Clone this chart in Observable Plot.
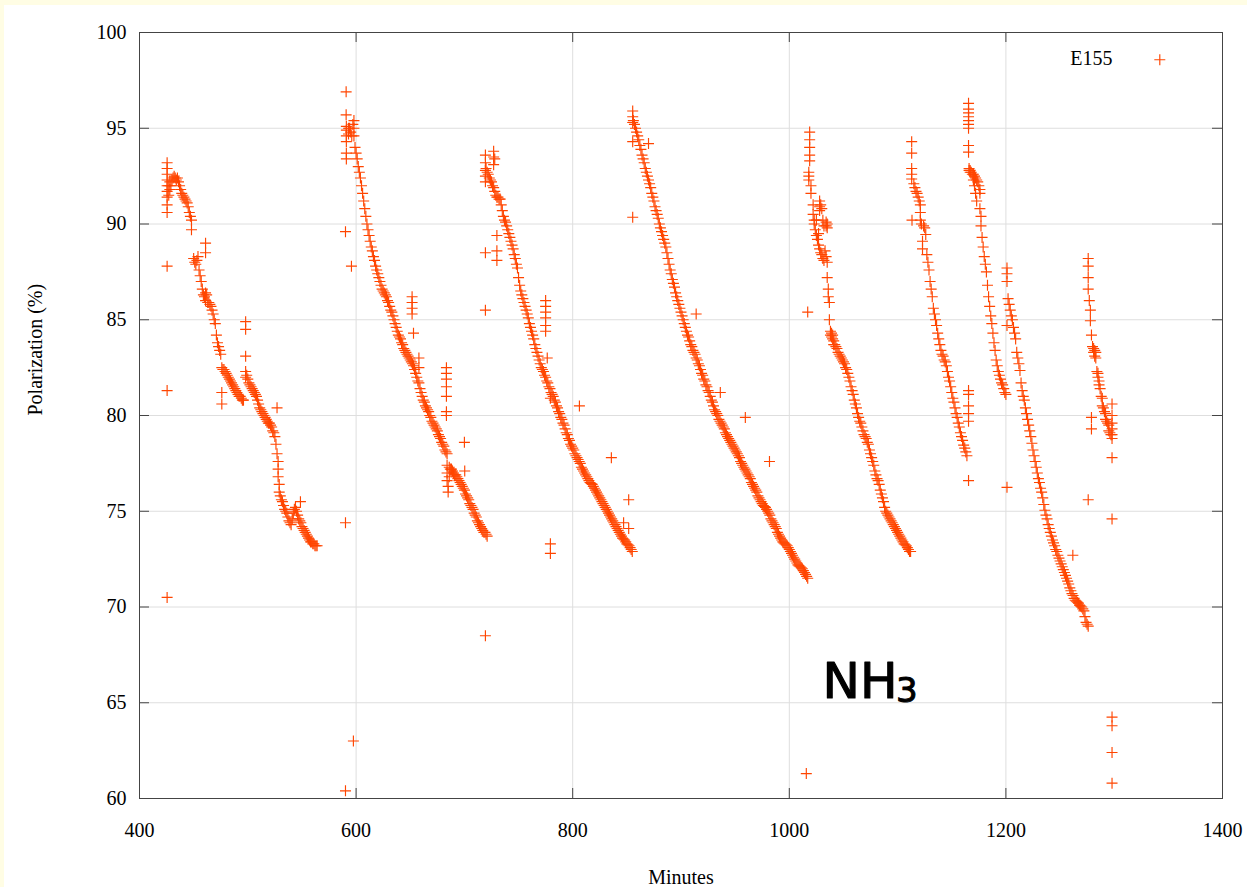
<!DOCTYPE html>
<html><head><meta charset="utf-8">
<script src="https://cdn.jsdelivr.net/npm/d3@7"></script>
<script src="https://cdn.jsdelivr.net/npm/@observablehq/plot@0.6"></script>
<style>
html,body{margin:0;padding:0;background:#fff;overflow:hidden;}
#chart svg{display:block;}
</style></head><body><div id="chart"></div><script>
// Tick values
const xTicks = [400, 600, 800, 1000, 1200, 1400];
const yTicks = [60, 65, 70, 75, 80, 85, 90, 95, 100];

// Series E155: [minutes, polarization %]
const seg1 = [[425.5,93.2],[425.5,92.9],[425.5,92.6],[425.5,92.3],[425.5,92.0],[425.5,91.7],[425.5,91.4],[425.5,91.0],[425.5,90.6],
[427,91.5],[427,92.0],[428,91.8],[428,92.2],[429,92.0],[430,92.3],[431,92.4],[432,92.5],[433,92.4],[434,92.3],[435,92.4],[436,92.2],[437,92.0],[438,91.8],[439,91.6],[440,91.5],[441,91.4],[442,91.3],[443,91.2],[444,91.1],[445,90.9],[446,90.6],[447,90.4],[448,90.2],
[450,88.2],[451,88.0],[452,87.9],[453,88.1],[454,88.3],[455,87.6],[456,87.3],[457,87.0],[458,86.6],[459,86.3],[460,86.2],[461,86.0],[461,86.4],[462,86.3],[463,85.9],[464,85.9],[465,85.8],[466,85.7],[467,85.5],[468,85.3],[469,85.0],[470,84.8],[471,84.2],[472,83.8],[473,83.6],[474,83.4],[475,83.2],
[476,82.5],[477,82.4],[478,82.4],[479,82.3],[480,82.2],[481,82.1],[482,82.0],[483,81.9],[484,81.8],[485,81.7],[486,81.6],[487,81.5],[488,81.4],[489,81.3],[490,81.2],[491,81.1],[492,81.0],[493,81.0],[494,80.9],[495,80.8],[496,80.8],
[498,82.3],[498,82.0],[499,82.1],[500,81.9],[501,81.7],[502,81.6],[503,81.5],[504,81.4],[505,81.3],[506,81.2],[507,81.1],[508,81.0],[509,80.8],[510,80.6],[511,80.4],[512,80.3],[513,80.2],[514,80.1],[515,80.0],[516,79.9],[517,79.8],[518,79.7],[519,79.6],[520,79.6],[521,79.5],[522,79.4],[523,79.2],[524,79.1],[525,78.9],[526,78.5],[527,78.0],[528,77.6],[528,77.2],[528,76.8],[529,76.4],[529,76.0],[530,75.8],[531,75.6],[532,75.5],[533,75.3],[534,75.1],[535,75.0],[536,74.9],[537,74.7],[538,74.5],[539,74.4],[540,74.3],[541,74.6],[542,74.9],[543,75.1],[544,75.2],[545,75.0],[546,74.8],[547,74.6],[548,74.5],[549,74.4],[550,74.2],[551,74.1],[552,74.0],[553,73.9],[554,73.8],[555,73.7],[556,73.6],[557,73.5],[558,73.4],[559,73.4],[560,73.3],[561,73.3],[562,73.2],[563,73.2],[564,73.2]];

const seg2 = [[591,95.1],[591,94.9],[591,94.6],[591,94.3],[591,93.7],[591,93.4],[593,95.0],[593,94.7],
[594,95.0],[595,94.8],[596,94.6],[597,95.2],[598,95.4],[598,95.0],[598,94.6],[599,94.0],[600,93.7],[601,93.4],[602,93.0],[603,92.7],[604,92.4],[605,92.0],[606,91.6],[607,91.2],[608,90.8],[609,90.4],[610,90.0],[611,89.7],[612,89.4],[613,89.1],[614,88.8],[615,88.6],[616,88.3],[617,88.1],[618,87.8],[619,87.6],[620,87.4],[621,87.2],[622,87.0],[623,86.8],[624,86.6],[625,86.5],[626,86.4],[627,86.3],[628,86.2],[629,86.0],[630,85.9],[631,85.7],[632,85.5],[633,85.4],[634,85.2],[635,85.0],[636,84.8],[637,84.6],[638,84.4],[639,84.2],[640,84.1],[641,84.0],[642,83.8],[643,83.7],[644,83.5],[645,83.4],[646,83.3],[647,83.2],[648,83.1],[649,83.0],[650,82.9],[651,82.8],[652,82.7],[653,82.6],[654,82.4],[655,82.2],[656,82.0],[657,81.8],[658,81.7],[659,81.4],[660,81.2],[661,81.0],[662,80.8],[663,80.7],[664,80.5],[665,80.4],[666,80.3],[667,80.2],[668,80.0],[669,79.9],[670,79.7],[671,79.6],[672,79.5],[673,79.4],[674,79.3],[675,79.2],[676,79.0],[677,78.9],[678,78.8],[679,78.6],[680,78.5],[681,78.4],[682,78.2],[683,78.1],[684,78.0],
[684,77.4],[684,77.0],[684,76.6],[685,76.3],[685,76.0],[686,77.3],[686,76.8],[687,77.2],[688,77.2],[689,77.1],[690,77.0],[691,76.9],[692,76.9],[693,76.8],[694,76.7],[695,76.6],[696,76.5],[697,76.4],[698,76.3],[699,76.2],[700,76.1],[701,75.9],[702,75.8],[703,75.7],[704,75.6],[705,75.4],[706,75.3],[707,75.2],[708,75.1],[709,74.9],[710,74.8],[711,74.7],[712,74.5],[713,74.4],[714,74.3],[715,74.2],[716,74.1],[717,74.0],[718,73.9],[719,73.9],[720,73.8],[721,73.7]];

const seg3 = [[719.4,93.6],[719.4,93.2],[719.4,92.8],[719.4,92.5],[719.4,92.2],[727,93.8],[727,93.5],[727,93.1],[728,93.4],
[720,92.9],[721,92.7],[722,92.6],[723,92.4],[724,92.3],[725,92.2],[726,92.0],[727,91.9],[728,91.7],[729,91.5],[730,91.4],[731,91.4],[732,91.3],[733,91.3],[734,91.0],[735,90.7],[736,90.4],[737,90.2],[738,90.1],[739,89.9],[740,89.7],[741,89.5],[742,89.3],[743,89.1],[744,88.9],[745,88.7],[746,88.4],[747,88.2],[748,87.9],[749,87.7],[750,87.2],[751,86.8],[752,86.5],[753,86.3],[754,86.1],[755,85.9],[756,85.7],[757,85.5],[758,85.3],[759,85.1],[760,84.8],[761,84.6],[762,84.4],[763,84.2],[764,84.0],[765,83.7],[766,83.5],[767,83.3],[768,83.1],[769,82.9],[770,82.7],[771,82.5],[772,82.4],[773,82.3],[774,82.1],[775,82.0],[776,81.8],[777,81.7],[778,81.5],[779,81.4],[780,81.2],[781,81.1],[782,81.0],[783,80.8],[784,80.7],[785,80.5],[786,80.4],[787,80.2],[788,80.1],[789,79.9],[790,79.8],[791,79.6],[792,79.5],[793,79.3],[794,79.1],[795,79.0],[796,78.8],[797,78.7],[798,78.5],[799,78.4],[800,78.3],[801,78.2],[802,78.0],[803,77.9],[804,77.8],[805,77.7],[806,77.6],[807,77.5],[808,77.3],[809,77.2],[810,77.1],[811,77.0],[812,76.9],[813,76.8],[814,76.7],[815,76.6],[816,76.5],[817,76.45],[818,76.4],[819,76.3],[820,76.2],[821,76.1],[822,76.0],[823,75.9],[824,75.8],[825,75.7],[826,75.6],[827,75.5],[828,75.4],[829,75.3],[830,75.2],[831,75.1],[832,75.0],[833,74.9],[834,74.8],[835,74.7],[836,74.6],[837,74.5],[838,74.4],[839,74.3],[840,74.2],[841,74.1],[842,74.0],[843,73.9],[844,73.8],[845,73.7],[846,73.6],[847,73.55],[848,73.5],[849,73.4],[850,73.3],[851,73.25],[852,73.2],[853,73.1],[854,73.0],[855,72.9]];

const seg4 = [[855.4,95.9],[855.4,95.6],[855.4,95.3],[855.4,94.3],
[856,95.4],[857,95.2],[858,95.0],[859,94.8],[860,94.6],[861,94.4],[862,94.1],[863,93.9],[864,93.6],[865,93.4],[866,93.2],[867,92.9],[868,92.7],[869,92.5],[870,92.3],[871,92.1],[872,91.9],[873,91.6],[874,91.4],[875,91.2],[876,90.9],[877,90.7],[878,90.5],[879,90.3],[880,90.0],[881,89.8],[882,89.6],[883,89.4],[884,89.2],[885,89.0],[886,88.8],[887,88.5],[888,88.2],[889,87.9],[890,87.6],[891,87.4],[892,87.1],[893,86.9],[894,86.7],[895,86.4],[896,86.2],[897,86.0],[898,85.8],[899,85.6],[900,85.4],[901,85.2],[902,85.0],[903,84.8],[904,84.6],[905,84.4],[906,84.2],[907,84.1],[908,83.9],[909,83.7],[910,83.6],[911,83.4],[912,83.3],[913,83.2],[914,83.0],[915,82.9],[916,82.7],[917,82.6],[918,82.4],[919,82.2],[920,82.1],[921,81.9],[922,81.8],[923,81.6],[924,81.5],[925,81.3],[926,81.2],[927,81.0],[928,80.8],[929,80.7],[930,80.5],[931,80.3],[932,80.2],[933,80.1],[934,80.0],[935,79.8],[936,79.7],[937,79.6],[938,79.5],[939,79.4],[940,79.3],[941,79.1],[942,79.0],[943,78.9],[944,78.8],[945,78.7],[946,78.6],[947,78.5],[948,78.4],[949,78.3],[950,78.2],[951,78.1],[952,78.0],[953,77.9],[954,77.8],[955,77.6],[956,77.5],[957,77.4],[958,77.3],[959,77.2],[960,77.1],[961,77.0],[962,76.9],[963,76.8],[964,76.7],[965,76.5],[966,76.4],[967,76.3],[968,76.2],[969,76.1],[970,76.0],[971,75.8],[972,75.7],[973,75.6],[974,75.5],[975,75.4],[976,75.3],[977,75.25],[978,75.2],[979,75.1],[980,75.0],[981,74.9],[982,74.8],[983,74.6],[984,74.5],[985,74.4],[986,74.3],[987,74.2],[988,74.1],[989,73.9],[990,73.8],[991,73.7],[992,73.6],[993,73.5],[994,73.4],[995,73.35],[996,73.3],[997,73.25],[998,73.2],[999,73.1],[1000,73.0],[1001,72.9],[1002,72.8],[1003,72.7],[1004,72.6],[1005,72.5],[1006,72.4],[1007,72.3],[1008,72.2],[1009,72.15],[1010,72.1],[1011,72.05],[1012,72.0],[1013,71.9],[1014,71.8],[1015,71.7],[1016,71.6],[1017,71.5]];

const seg5 = [[1018.8,94.8],[1018.8,94.4],[1018.8,94.0],[1018.8,93.6],[1018.8,93.3],[1018,92.7],[1018,92.5],[1018,92.3],[1020,92.0],[1020,91.6],
[1022,91.0],[1022,90.5],[1023,90.2],[1023,90.0],[1024,89.7],[1025,90.2],[1025,89.4],[1026,89.2],[1027,89.5],[1027,88.9],[1028,91.2],[1028,90.9],[1028,90.7],[1028,88.7],[1029,91.0],[1029,88.5],[1030,90.8],[1030,88.4],[1031,90.2],[1031,88.2],[1032,89.9],[1032,88.1],[1033,88.6],[1034,90.1],[1034,89.9],[1034,88.3],[1035,90.0],[1035,89.8],[1035,88.0],[1035,87.2],[1036,86.6],[1036,86.2],[1037,85.9],[1037,85.0],[1038,84.4],[1038,84.2],[1039,84.3],[1039,84.1],[1040,84.2],[1040,84.0],[1041,83.9],[1041,83.7],[1042,83.7],[1043,83.6],[1044,83.5],[1045,83.3],[1046,83.2],[1047,83.1],[1048,83.0],[1049,82.9],[1050,82.8],[1051,82.7],[1052,82.5],[1053,82.4],[1054,82.2],[1055,82.0],[1056,81.8],[1057,81.5],[1058,81.3],[1059,81.1],[1060,80.8],[1061,80.6],[1062,80.4],[1063,80.1],[1064,79.9],[1065,79.7],[1066,79.6],[1067,79.4],[1068,79.2],[1069,79.0],[1070,78.9],[1071,78.8],[1072,78.6],[1073,78.5],[1074,78.2],[1075,78.0],[1076,77.8],[1077,77.6],[1078,77.4],[1079,77.1],[1080,76.9],[1081,76.7],[1082,76.6],[1083,76.4],[1084,76.1],[1085,75.9],[1086,75.7],[1087,75.5],[1088,75.2],[1089,75.0],[1090,74.9],[1091,74.8],[1092,74.7],[1093,74.6],[1094,74.5],[1095,74.4],[1096,74.3],[1097,74.2],[1098,74.1],[1099,74.0],[1100,73.9],[1101,73.8],[1102,73.7],[1103,73.6],[1104,73.5],[1105,73.4],[1106,73.3],[1107,73.25],[1108,73.2],[1109,73.1],[1110,73.0],[1111,72.9],[1112,72.9]];

const seg6 = [[1113,94.3],[1113,93.7],[1113,92.9],[1113,92.6],[1113,92.35],[1115,92.1],[1116,91.9],[1117,91.7],[1118,91.6],[1119,91.4],[1120,91.2],[1121,91.0],[1121,90.6],[1121,90.2],[1122,90.0],[1123,89.1],[1123,88.7],[1124,89.9],[1125,89.8],[1126,89.45],[1127,88.4],[1128,88.0],[1129,87.6],[1130,87.0],[1131,86.6],[1132,86.2],[1133,85.6],[1134,85.3],[1135,85.0],[1136,84.7],[1137,84.3],[1138,84.0],[1139,83.7],[1140,83.4],[1141,83.2],[1142,83.1],[1143,82.9],[1144,82.8],[1145,82.6],[1146,82.3],[1147,82.0],[1148,81.8],[1149,81.5],[1150,81.2],[1151,80.9],[1152,80.7],[1153,80.4],[1154,80.1],[1155,79.9],[1156,79.6],[1157,79.4],[1158,79.1],[1159,78.9],[1160,78.7],[1161,78.45],[1162,78.3],[1163,78.1],[1164,77.9]];

const seg7 = [[1165.5,96.3],[1165.5,96.0],[1165.5,95.8],[1165.5,95.6],[1165.5,95.4],[1165.5,95.2],[1165.5,95.0],[1165.5,94.1],[1165.5,93.75],
[1166,92.9],[1166,92.8],[1167,92.8],[1167,92.7],[1168,92.7],[1169,92.6],[1170,92.6],[1170,92.3],[1171,92.5],[1171,92.0],[1172,92.4],[1172,91.6],[1173,92.3],[1173,91.2],[1174,92.2],[1175,92.0],[1176,91.8],[1176,91.6],[1176,90.8],[1177,90.4],[1177,89.9],[1178,89.3],[1179,88.8],[1180,88.3],[1181,87.9],[1182,87.5],[1183,86.8],[1184,86.2],[1185,85.7],[1186,85.2],[1187,84.8],[1188,84.3],[1189,83.8],[1190,83.4],[1191,82.9],[1192,82.6],[1193,82.3],[1194,82.1],[1195,81.9],[1196,81.7],[1197,81.6],[1198,81.4],[1199,81.2],[1200,81.1]];

const seg8 = [[1201,87.7],[1201,87.4],[1201,87.0],[1202,86.1],[1203,85.8],[1204,85.5],[1205,85.2],[1206,85.0],[1207,84.6],[1208,84.3],[1209,84.0],[1210,83.3],[1211,83.0],[1212,82.7],[1213,82.35],[1214,81.7],[1215,81.3],[1216,81.0],[1217,80.8],[1218,80.4],[1219,80.1],[1220,79.8],[1221,79.5],[1222,79.2],[1223,78.9],[1224,78.55],[1225,78.2],[1226,77.9],[1227,77.6],[1228,77.3],[1229,77.0],[1230,76.7],[1231,76.5],[1232,76.2],[1233,76.0],[1234,75.7],[1235,75.35],[1236,75.05],[1237,74.8],[1238,74.6],[1239,74.3],[1240,74.1],[1241,73.9],[1242,73.7],[1243,73.5],[1244,73.35],[1245,73.2],[1246,73.0],[1247,72.9],[1248,72.7],[1249,72.55],[1250,72.4],[1251,72.25],[1252,72.1],[1253,71.95],[1254,71.8],[1255,71.65],[1256,71.5],[1257,71.35],[1258,71.2],[1259,71.0],[1260,70.85],[1261,70.7],[1262,70.6],[1263,70.45],[1264,70.35],[1265,70.3],[1266,70.25],[1267,70.2],[1268,70.1],[1269,70.05],[1270,70.0],[1271,69.9],[1272,69.8],[1273,69.5],[1274,69.2],[1275,69.1],[1276,69.0]];

const seg9 = [[1276,88.2],[1276,87.8],[1276,87.2],[1276,86.6],[1277,86.0],[1278,85.5],[1278,84.95],[1279,84.2],[1280,83.6],[1281,83.5],[1281,83.3],[1282,83.4],[1282,83.1],[1283,83.3],[1283,83.0],[1284,82.3],[1285,82.2],[1285,82.0],[1286,81.8],[1286,81.6],[1287,81.4],[1288,81.0],[1289,80.9],[1289,80.5],[1290,80.4],[1291,80.2],[1292,80.1],[1292,79.8],[1293,79.7],[1294,79.6],[1295,79.5],[1295,79.2],[1296,79.1],[1297,79.0],[1298,80.6],[1298,80.0],[1298,79.6],[1298,79.3],[1298,79.0],[1298,78.8]];

const outliers = [[425.5,87.8],[425.5,81.3],[425.5,70.5],[448,89.7],[461,89.0],[461,88.5],[476,81.2],[476,80.6],[498,84.9],[498,84.5],[498,83.1],[527,80.4],[548.6,75.5],
[590.8,96.9],[590.8,95.7],[590.2,89.6],[595.7,87.8],[590.2,74.4],[590.2,60.4],[597.5,63.0],[658,83.0],[658,82.5],[651.7,86.2],[651.7,85.9],[651.7,85.6],[651.7,85.3],[653,84.3],[683.4,82.5],[683.4,82.2],[683.4,81.9],[683.4,81.5],[683.4,81.0],[683.4,80.2],[683.4,80.0],[700,78.6],[700.3,77.1],
[719.4,88.5],[719.4,85.5],[719.4,68.5],[730,89.4],[730,88.6],[730,88.1],[775,86.0],[775,85.7],[775,85.4],[775,85.1],[775,84.7],[775,84.4],[776.5,83.0],[779.4,80.9],[779.4,73.3],[779.4,72.8],[806.2,80.5],[835.7,77.8],[847,74.4],[851.7,75.6],[851.7,74.1],
[855.4,90.35],[870,94.2],[914,85.3],[936.3,81.2],[959.4,79.9],[981.7,77.6],
[1015.7,61.3],[1017,85.4],[1113.3,90.2],[1165.5,81.3],[1165.5,81.1],[1165.5,80.5],[1165.5,80.1],[1165.5,79.7],[1165.5,76.6],
[1201,76.25],[1201,84.7],[1261.8,72.7],[1276,75.6],[1279,79.9],[1279,79.3],[1298,77.8],[1298,74.6],[1298,64.25],[1298,63.8],[1298,62.4],[1298,60.8]];

const seriesName = "E155";
const annotation = ["NH", "3"];
const xLabel = "Minutes";
const yLabel = "Polarization (%)";

const table = [...seg1, ...seg2, ...seg3, ...seg4, ...seg5, ...seg6, ...seg7, ...seg8, ...seg9, ...outliers]
  .map(([m, v]) => ({minutes: m, polarization: v}));

// Gnuplot-like "+" point symbol
const plus = {
  draw(context, size) {
    const r = Math.sqrt(size / Math.PI);
    context.moveTo(-r, 0); context.lineTo(r, 0);
    context.moveTo(0, -r); context.lineTo(0, r);
  }
};

const W = 1247, H = 887, ML = 139, MR = 25, MT = 32, MB = 89;
const PW = W - ML - MR, PH = H - MT - MB;
const color = "#ff4500", axisColor = "#444", gridColor = "#dedede";

const chart = Plot.plot({
  width: W, height: H,
  marginLeft: ML, marginRight: MR, marginTop: MT, marginBottom: MB,
  style: {
    fontFamily: "'Liberation Serif', 'Times New Roman', serif",
    fontSize: "20px",
    color: "#000",
    background: "linear-gradient(to right, #fffde4 4px, transparent 4px), linear-gradient(to bottom, #fffde4 5px, #ffffff 5px)"
  },
  x: {domain: [400, 1400]},
  y: {domain: [60, 100]},
  marks: [
    Plot.ruleX(xTicks, {stroke: gridColor, strokeOpacity: 1}),
    Plot.ruleY(yTicks, {stroke: gridColor, strokeOpacity: 1}),
    Plot.axisX({ticks: xTicks, tickSize: 0, tickPadding: 24, label: null, tickFormat: d => String(d)}),
    Plot.axisY({ticks: yTicks, tickSize: 0, tickPadding: 13, label: null, tickFormat: d => String(d)}),
    Plot.dot(table, {x: "minutes", y: "polarization", symbol: plus, r: 5.5, stroke: color, strokeWidth: 1.15, fill: "none"}),
    Plot.frame({stroke: axisColor}),
    Plot.tickY(yTicks, {y: d => d, insetRight: PW - 10, stroke: axisColor}),
    Plot.tickY(yTicks, {y: d => d, insetLeft: PW - 10, stroke: axisColor}),
    Plot.tickX(xTicks, {x: d => d, insetTop: PH - 10, stroke: axisColor}),
    Plot.tickX(xTicks, {x: d => d, insetBottom: PH - 10, stroke: axisColor}),
    Plot.text([xLabel], {frameAnchor: "bottom", dy: 79, lineAnchor: "middle"}),
    Plot.text([yLabel], {frameAnchor: "left", dx: -104, rotate: -90, lineAnchor: "middle"}),
    Plot.text([seriesName], {frameAnchor: "top-right", dx: -110, dy: 26, textAnchor: "end", lineAnchor: "middle"}),
    Plot.dot([seriesName], {frameAnchor: "top-right", dx: -62.7, dy: 27.2, symbol: plus, r: 5.5, stroke: color, strokeWidth: 1.15, fill: "none"}),
    Plot.text([annotation[0]], {frameAnchor: "bottom-left", dx: 683, dy: -117, textAnchor: "start", lineAnchor: "middle", fontFamily: "'DejaVu Sans', sans-serif", fontSize: 50, fill: "#000", stroke: "#000", strokeWidth: 1.2}),
    Plot.text([annotation[1]], {frameAnchor: "bottom-left", dx: 756.5, dy: -107, textAnchor: "start", lineAnchor: "middle", fontFamily: "'DejaVu Sans', sans-serif", fontSize: 34, fill: "#000", stroke: "#000", strokeWidth: 1})
  ]
});
document.getElementById("chart").appendChild(chart);
</script></body></html>
